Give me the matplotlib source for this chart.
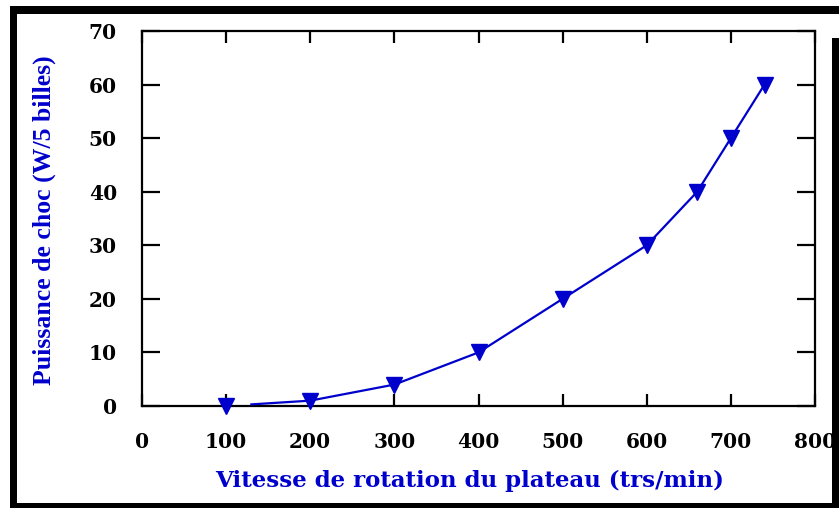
import matplotlib
matplotlib.use("Agg")
import matplotlib.pyplot as plt
from matplotlib.patches import Rectangle


# -----------------------------------------------------
# data
# -----------------------------------------------------

vitesse = [100, 200, 300, 400, 500, 600, 660, 700, 740]
puissance = [0, 1, 4, 10, 20, 30, 40, 50, 60]

# the trend line starts a little after the first measurement
courbe_x = [130, 200, 300, 400, 500, 600, 660, 700, 740]
courbe_y = [0.3, 1, 4, 10, 20, 30, 40, 50, 60]

x_ticks = [0, 100, 200, 300, 400, 500, 600, 700, 800]
y_ticks = [0, 10, 20, 30, 40, 50, 60, 70]

BLUE = "#0000CC"
W, H = 839, 508

fig = plt.figure(figsize=(W / 100, H / 100), dpi=100)
fig.patch.set_facecolor("white")

# axes box in pixels: left 142, right 815, top 31, bottom 406
ax = fig.add_axes([142 / W, (H - 406) / H, (815 - 142) / W, (406 - 31) / H])

ax.plot(courbe_x, courbe_y, color=BLUE, lw=1.6, zorder=3)
ax.plot(vitesse, puissance, linestyle="none", marker="v", ms=12,
        color=BLUE, zorder=4, clip_on=False)

ax.set_xlim(0, 800)
ax.set_ylim(0, 70)
ax.set_xticks(x_ticks)
ax.set_yticks(y_ticks)

for s in ax.spines.values():
    s.set_linewidth(1.6)

tick_font = dict(family=["DejaVu Serif"], weight="bold", size=14.5)
ax.set_xticklabels([str(v) for v in x_ticks], fontdict=tick_font)
ax.set_yticklabels([str(v) for v in y_ticks], fontdict=tick_font)

ax.tick_params(axis="x", direction="in", length=8.5, width=1.6,
               top=True, bottom=True, pad=19)
ax.tick_params(axis="y", direction="in", length=13, width=1.6,
               left=True, right=True, pad=18)

# axis titles
fig.text(470 / W, 1 - 481 / H, "Vitesse de rotation du plateau (trs/min)",
         color=BLUE, family=["DejaVu Serif"], weight="bold", size=16.5,
         ha="center", va="center")
fig.text(44 / W, 1 - 220 / H, "Puissance de choc (W/5 billes)",
         color=BLUE, family=["DejaVu Serif Condensed", "Liberation Serif"],
         weight="bold", size=18.5, rotation=90, ha="center", va="center")

# thick black frame around the figure
def bar(x0, y0, x1, y1):
    fig.patches.append(Rectangle((x0 / W, 1 - y1 / H), (x1 - x0) / W,
                                 (y1 - y0) / H, transform=fig.transFigure,
                                 facecolor="black", edgecolor="none"))

bar(10, 6, W, 14)      # top
bar(10, 6, 17, H)      # left
bar(10, 503, W, H)     # bottom
bar(832, 38, W, H)     # right

fig.savefig("out.png", dpi=100)
